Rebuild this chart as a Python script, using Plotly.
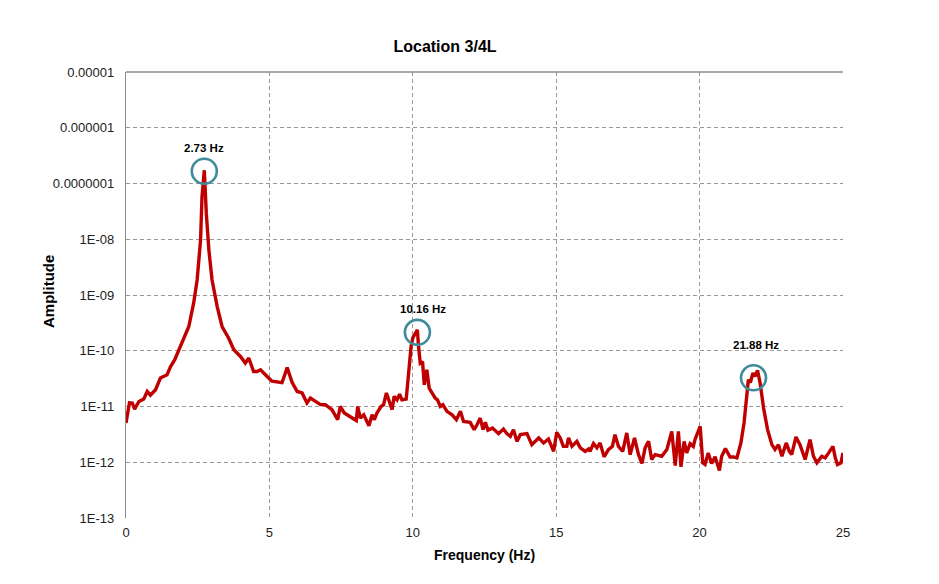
import math
import plotly.graph_objects as go

title_text = "Location 3/4L"
x_title = "Frequency (Hz)"
y_title = "Amplitude"

freq = [0.00, 0.12, 0.22, 0.30, 0.45, 0.62, 0.74, 0.85, 1.03, 1.20, 1.43, 1.55, 1.70, 1.84,
        2.01, 2.19, 2.36, 2.48, 2.60, 2.65, 2.73, 2.80, 2.89, 3.00, 3.18, 3.35, 3.58, 3.76,
        3.99, 4.16, 4.28, 4.45, 4.57, 4.69, 4.92, 5.09, 5.44, 5.62, 5.79, 5.97, 6.14, 6.31,
        6.43, 6.60, 6.78, 6.95, 7.18, 7.38, 7.47, 7.61, 7.82, 8.03, 8.08, 8.17, 8.29, 8.40,
        8.47, 8.58, 8.66, 8.75, 8.89, 8.98, 9.08, 9.16, 9.28, 9.35, 9.45, 9.54, 9.62, 9.77,
        9.85, 9.94, 10.00, 10.16, 10.20, 10.26, 10.34, 10.40, 10.49, 10.57, 10.67, 10.78,
        10.86, 10.96, 11.05, 11.19, 11.37, 11.52, 11.66, 11.77, 12.00, 12.14, 12.24, 12.35,
        12.45, 12.53, 12.62, 12.78, 12.99, 13.16, 13.28, 13.40, 13.51, 13.63, 13.75, 13.98,
        14.15, 14.39, 14.56, 14.73, 14.91, 15.02, 15.14, 15.25, 15.37, 15.43, 15.55, 15.72,
        15.84, 16.01, 16.13, 16.18, 16.30, 16.42, 16.53, 16.67, 16.82, 16.96, 17.05, 17.17,
        17.32, 17.46, 17.58, 17.73, 17.87, 17.99, 18.10, 18.22, 18.33, 18.45, 18.68, 18.86,
        19.03, 19.15, 19.26, 19.35, 19.46, 19.55, 19.67, 19.78, 19.84, 20.02, 20.11, 20.19,
        20.30, 20.42, 20.54, 20.69, 20.77, 20.90, 21.06, 21.18, 21.30, 21.44, 21.55, 21.63,
        21.70, 21.77, 21.86, 21.93, 22.02, 22.11, 22.23, 22.37, 22.52, 22.63, 22.75, 22.87,
        23.02, 23.13, 23.21, 23.36, 23.50, 23.68, 23.85, 23.97, 24.09, 24.26, 24.38, 24.50,
        24.65, 24.73, 24.81, 24.93, 25.00]

amplitude = [5.07e-12, 1.16e-11, 1.15e-11, 9.0e-12, 1.23e-11, 1.36e-11, 1.86e-11, 1.6e-11,
             2.0e-11, 3.24e-11, 3.7e-11, 5.15e-11, 6.9e-11, 1.04e-10,
             1.57e-10, 2.72e-10, 7.2e-10, 1.86e-9, 9.7e-9, 5.75e-8, 1.73e-7, 2.94e-8, 6.4e-9,
             1.86e-9, 6.2e-10, 2.72e-10, 1.68e-10, 1.04e-10,
             7.9e-11, 6.0e-11, 7.4e-11, 4.25e-11, 4.25e-11, 4.56e-11, 3.46e-11, 2.84e-11,
             2.67e-11, 4.99e-11, 2.72e-11, 1.86e-11, 1.75e-11, 1.16e-11,
             1.42e-11, 1.23e-11, 1.08e-11, 1.08e-11, 8.8e-12, 5.8e-12, 1.0e-11, 7.65e-12,
             6.65e-12, 5.6e-12, 1.0e-11, 6.2e-12, 7.1e-12, 5.07e-12,
             4.5e-12, 7.1e-12, 5.8e-12, 7.65e-12, 1.0e-11, 1.08e-11, 1.75e-11, 1.32e-11,
             8.8e-12, 1.52e-11, 1.32e-11, 1.67e-11, 1.32e-11, 1.36e-11,
             4.25e-11, 1.19e-10, 1.7e-10, 2.37e-10, 1.19e-10, 6.0e-11, 6.4e-11, 2.45e-11,
             4.56e-11, 2.14e-11, 1.75e-11, 1.42e-11,
             1.32e-11, 1.0e-11, 1.08e-11, 8.2e-12, 7.1e-12, 5.8e-12, 8.2e-12, 5.4e-12,
             5.2e-12, 3.85e-12, 4.7e-12, 6.2e-12,
             3.85e-12, 5.2e-12, 3.77e-12, 4.1e-12, 3.26e-12, 3.95e-12, 3.26e-12, 2.92e-12,
             3.85e-12, 2.37e-12, 3.13e-12, 3.26e-12,
             2.07e-12, 2.73e-12, 2.22e-12, 2.62e-12, 1.57e-12, 3.44e-12, 2.73e-12, 1.93e-12,
             1.93e-12, 2.73e-12, 1.93e-12, 2.37e-12,
             1.81e-12, 1.57e-12, 1.73e-12, 1.57e-12, 2.16e-12, 1.81e-12, 2.22e-12, 1.25e-12,
             1.69e-12, 1.93e-12, 3.13e-12, 1.93e-12,
             1.57e-12, 3.36e-12, 1.37e-12, 2.73e-12, 1.37e-12, 9.5e-13, 1.81e-12, 2.37e-12,
             1.12e-12, 1.37e-12, 1.28e-12, 1.69e-12,
             3.58e-12, 8.7e-13, 3.58e-12, 8.3e-13, 2.37e-12, 1.47e-12, 2.16e-12, 1.93e-12,
             2.55e-12, 4.4e-12, 9.75e-13, 9.1e-13,
             1.47e-12, 9.5e-13, 1.26e-12, 7.1e-13, 1.28e-12, 1.76e-12, 1.24e-12, 1.25e-12,
             1.2e-12, 2.22e-12, 5.07e-12, 1.52e-11,
             3.02e-11, 2.7e-11, 3.98e-11, 3.46e-11, 4.43e-11, 2.64e-11, 9.4e-12, 3.85e-12,
             2.07e-12, 1.69e-12, 2.07e-12, 1.28e-12,
             2.22e-12, 1.57e-12, 1.37e-12, 2.84e-12, 2.07e-12, 1.12e-12, 2.55e-12, 1.28e-12,
             9.75e-13, 1.28e-12, 1.2e-12, 1.47e-12,
             1.93e-12, 1.2e-12, 9.1e-13, 9.75e-13, 1.47e-12]

peak_freq = [2.73, 10.16, 21.88]
peak_amp = [1.66e-7, 2.14e-10, 3.27e-11]
peak_labels = ["2.73 Hz", "10.16 Hz", "21.88 Hz"]

x_ticks = [0, 5, 10, 15, 20, 25]
y_tickvals = [1e-13, 1e-12, 1e-11, 1e-10, 1e-9, 1e-8, 1e-7, 1e-6, 1e-5]
y_ticktext = ["1E-13", "1E-12", "1E-11", "1E-10", "1E-09", "1E-08",
              "0.0000001", "0.000001", "0.00001"]

font_family = "Liberation Sans, Arial, sans-serif"

fig = go.Figure()
fig.add_trace(go.Scatter(
    x=freq, y=amplitude, mode="lines",
    line=dict(color="#c00000", width=3.4),
    hoverinfo="x+y", showlegend=False))
fig.add_trace(go.Scatter(
    x=peak_freq, y=peak_amp, mode="markers",
    marker=dict(symbol="circle-open", size=25, color="#3e8c9b",
                line=dict(color="#3e8c9b", width=2.6)),
    showlegend=False, hoverinfo="skip"))

label_shifts = [23, 23.5, 33]
label_xshifts = [0, 6, 2]
for f, a, t, s, xs in zip(peak_freq, peak_amp, peak_labels, label_shifts, label_xshifts):
    fig.add_annotation(x=f, y=math.log10(a), xref="x", yref="y", text="<b>%s</b>" % t,
                       showarrow=False, yshift=s, xshift=xs,
                       xanchor="center", yanchor="middle",
                       font=dict(family=font_family, size=11.5, color="#000000"))

# axis titles
fig.add_annotation(x=0.5, y=0, xref="paper", yref="paper", text="<b>%s</b>" % x_title,
                   showarrow=False, xanchor="center", yanchor="middle", yshift=-36.5,
                   font=dict(family=font_family, size=14, color="#000000"))
fig.add_annotation(x=0, y=0.5, xref="paper", yref="paper", text="<b>%s</b>" % y_title,
                   showarrow=False, xanchor="center", yanchor="middle", textangle=-90,
                   xshift=-77.5, yshift=3.5,
                   font=dict(family=font_family, size=15, color="#000000"))

fig.add_shape(type="line", xref="paper", yref="paper", x0=0, x1=1, y0=1, y1=1,
              line=dict(color="#8c8c8c", width=1.3))

fig.update_layout(
    width=939, height=584,
    margin=dict(l=117.5, r=103.7, t=63.7, b=73.5),
    paper_bgcolor="white", plot_bgcolor="white",
    title=dict(text="<b>%s</b>" % title_text, x=0.4654, xanchor="center",
               y=0.9337, yanchor="middle",
               font=dict(family=font_family, size=16, color="#000000")),
    font=dict(family=font_family, size=13, color="#222222"),
    xaxis=dict(range=[0, 25], tickvals=x_ticks, ticks="", showline=False,
               showgrid=True, gridcolor="#9a9a9a", gridwidth=1, griddash="4px,3px",
               zeroline=False, ticklabelstandoff=5,
               tickfont=dict(family=font_family, size=13, color="#222222")),
    yaxis=dict(type="log", range=[-13, -5], tickvals=y_tickvals, ticktext=y_ticktext,
               ticks="", showline=True, linecolor="#8c8c8c", linewidth=1.3,
               showgrid=True, gridcolor="#9a9a9a", gridwidth=1, griddash="4px,3px",
               zeroline=False, ticklabelstandoff=8,
               tickfont=dict(family=font_family, size=13, color="#222222")),
)

fig.write_html("out.html")
